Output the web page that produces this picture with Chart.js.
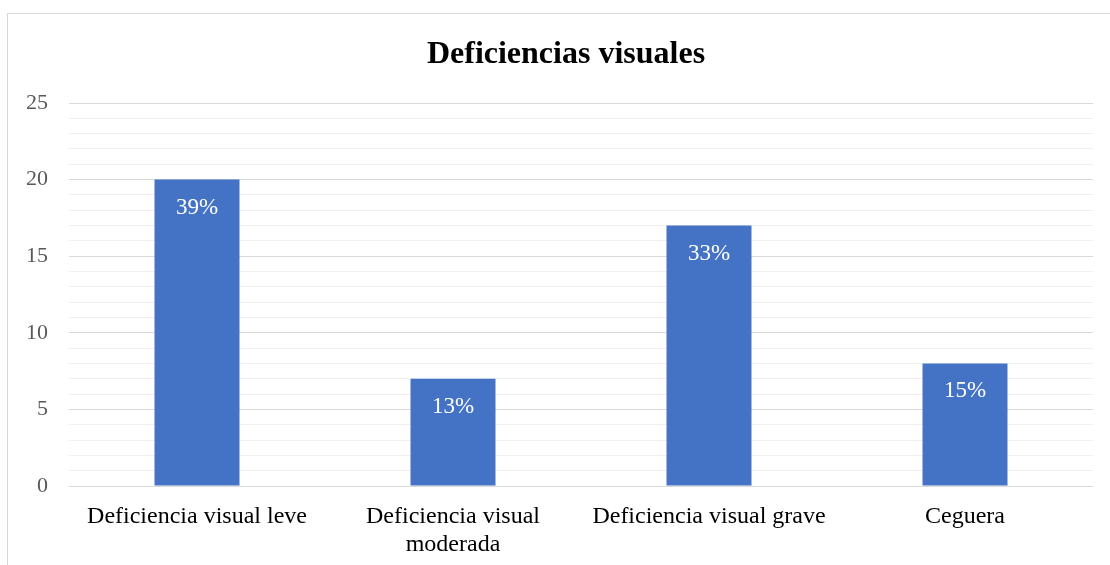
<!DOCTYPE html>
<html>
<head>
<meta charset="utf-8">
<script src="https://cdn.jsdelivr.net/npm/chart.js@4/dist/chart.umd.min.js"></script>
<style>
  body { margin: 0; background: #fff; overflow: hidden; }
  #frame {
    position: absolute; left: 7px; top: 13px;
    width: 1110px; height: 560px;
    border: 1px solid #d9d9d9;
  }
  #chart { display: block; }
  #title {
    position: absolute; left: 0; top: 34px; width: 1132px;
    text-align: center; line-height: 38px;
    font: bold 32px "Liberation Serif", "Times New Roman", serif;
    color: #000;
  }
</style>
</head>
<body>
<div id="frame"><canvas id="chart" width="1101" height="552"></canvas></div>
<div id="title">Deficiencias visuales</div>
<script>
// categories and counts
var categories = [
  'Deficiencia visual leve',
  ['Deficiencia visual', 'moderada'],
  'Deficiencia visual grave',
  'Ceguera'
];
var counts = [20, 7, 17, 8];
var percentLabels = ['39%', '13%', '33%', '15%'];
var yTicks = [0, 5, 10, 15, 20, 25];

var serif = '"Liberation Serif", "Times New Roman", serif';

// writes the percentage inside the top of each bar
var barLabels = {
  id: 'barLabels',
  afterDatasetsDraw: function (chart) {
    var ctx = chart.ctx;
    var meta = chart.getDatasetMeta(0);
    ctx.save();
    ctx.fillStyle = '#ffffff';
    ctx.font = '23px ' + serif;
    ctx.textAlign = 'center';
    ctx.textBaseline = 'middle';
    meta.data.forEach(function (bar, i) {
      ctx.fillText(percentLabels[i], bar.x, bar.y + 28);
    });
    ctx.restore();
  }
};

var chart1 = new Chart(document.getElementById('chart'), {
  type: 'bar',
  data: {
    labels: categories,
    datasets: [{
      data: counts,
      backgroundColor: '#4472c4',
      categoryPercentage: 1,
      barPercentage: 0.332
    }]
  },
  options: {
    responsive: false,
    animation: false,
    layout: { padding: { top: 89, right: 16, left: 0, bottom: 0 } },
    plugins: {
      legend: { display: false },
      tooltip: { enabled: false },
      title: { display: false }
    },
    scales: {
      x: {
        grid: { display: false },
        border: { display: false },
        ticks: {
          color: '#000',
          font: { family: serif, size: 24, lineHeight: 1.2 },
          padding: 8,
          maxRotation: 0,
          autoSkip: false
        },
        afterFit: function (scale) { scale.height = 80; }
      },
      y: {
        min: 0,
        max: 25,
        border: { display: false },
        grid: {
          drawTicks: false,
          color: function (c) {
            return yTicks.indexOf(c.tick.value) >= 0 ? '#d9d9d9' : '#f0f0f0';
          }
        },
        ticks: {
          stepSize: 1,
          autoSkip: false,
          color: '#595959',
          padding: 21,
          font: { family: serif, size: 22 },
          callback: function (v) { return yTicks.indexOf(v) >= 0 ? v : ''; }
        },
        afterFit: function (scale) { scale.width = 61; }
      }
    }
  },
  plugins: [barLabels]
});
</script>
</body>
</html>
